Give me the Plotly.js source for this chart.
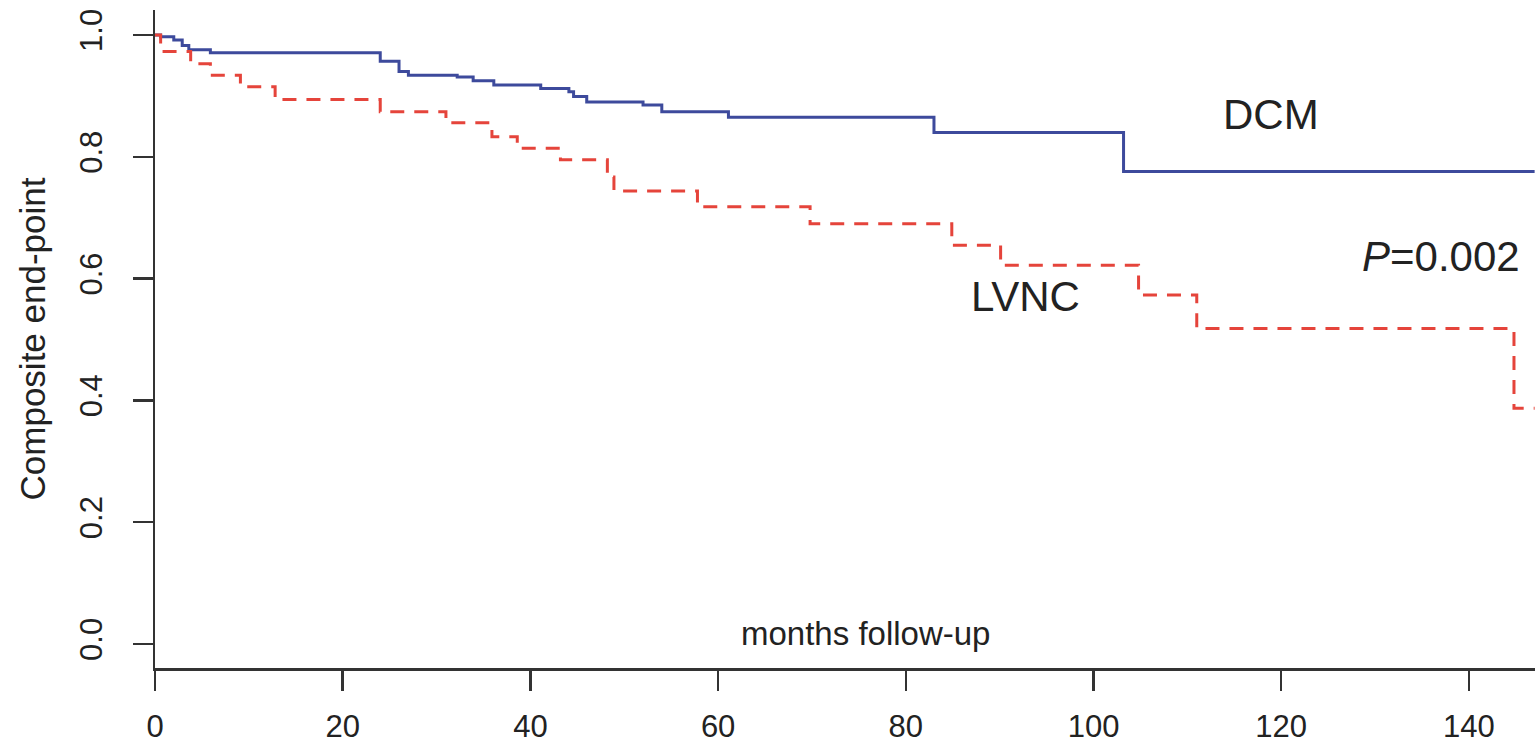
<!DOCTYPE html>
<html>
<head>
<meta charset="utf-8">
<script src="https://cdn.plot.ly/plotly-3.0.1.min.js"></script>
<style>html,body{margin:0;padding:0;background:#fff;}#chart{width:1535px;height:750px;}</style>
</head>
<body>
<div id="chart"></div>
<script>
// DCM Kaplan-Meier estimates (months, survival free of composite end-point)
const dcmMonths = [0, 0.6, 2.0, 2.9, 3.6, 5.9, 24.0, 26.0, 27.0, 32.2, 33.9, 36.1, 41.1, 44.1, 44.6, 46.0, 52.0, 54.0, 61.1, 83.0, 103.2, 147];
const dcmSurv   = [1.0, 0.997, 0.992, 0.983, 0.976, 0.971, 0.957, 0.940, 0.934, 0.931, 0.925, 0.918, 0.912, 0.907, 0.899, 0.890, 0.885, 0.874, 0.865, 0.840, 0.776, 0.776];
// LVNC Kaplan-Meier estimates
const lvncMonths = [0, 0.6, 3.8, 5.9, 9.1, 12.8, 24.0, 31.0, 35.9, 38.6, 43.2, 48.2, 48.9, 57.8, 69.8, 84.9, 90.1, 104.8, 111.0, 144.8, 147];
const lvncSurv   = [1.0, 0.973, 0.953, 0.934, 0.915, 0.894, 0.874, 0.856, 0.833, 0.814, 0.795, 0.767, 0.744, 0.718, 0.690, 0.655, 0.622, 0.573, 0.518, 0.387, 0.387];

const xTickVals = [0, 20, 40, 60, 80, 100, 120, 140];
const xTickText = ["0", "20", "40", "60", "80", "100", "120", "140"];
const yTickVals = [0.0, 0.2, 0.4, 0.6, 0.8, 1.0];
const yTickText = ["0.0", "0.2", "0.4", "0.6", "0.8", "1.0"];

const groupLabels = ["DCM", "LVNC"];
const pValueText = "<i>P</i>=0.002";
const xTitle = "months follow-up";
const yTitle = "Composite end-point";

const FONT = "Liberation Sans, Arial, Helvetica, sans-serif";
const TXT = "#222222";

const traces = [
  {x: dcmMonths, y: dcmSurv, type: "scatter", mode: "lines", name: groupLabels[0],
   line: {shape: "hv", color: "#3d4a9c", width: 3}},
  {x: lvncMonths, y: lvncSurv, type: "scatter", mode: "lines", name: groupLabels[1],
   line: {shape: "hv", color: "#e5443b", width: 3, dash: "14px,10px"}}
];

const layout = {
  width: 1535, height: 750,
  margin: {l: 155, r: 0, t: 10, b: 82},
  paper_bgcolor: "#ffffff", plot_bgcolor: "#ffffff",
  showlegend: false,
  font: {family: FONT, color: TXT},
  xaxis: {
    range: [0, 147.04], showgrid: false, zeroline: false,
    showline: true, linecolor: "#333333", linewidth: 2.5,
    ticks: "outside", ticklen: 20, tickwidth: 2.5, tickcolor: "#333333",
    tickmode: "array", tickvals: xTickVals, ticktext: xTickText,
    tickfont: {size: 31, family: FONT, color: TXT}, ticklabelstandoff: 9
  },
  yaxis: {
    range: [-0.0394, 1.0411], showgrid: false, zeroline: false,
    showline: true, linecolor: "#333333", linewidth: 2.5,
    ticks: "outside", ticklen: 20, tickwidth: 2.5, tickcolor: "#333333",
    tickmode: "array", tickvals: yTickVals, ticktext: yTickText, tickangle: -90,
    tickfont: {size: 31, family: FONT, color: TXT}, ticklabelstandoff: 18,
    title: {text: yTitle, font: {size: 35, family: FONT, color: TXT}, standoff: 18}
  },
  annotations: [
    {x: 75.7, y: 0.018, xref: "x", yref: "y", text: xTitle, showarrow: false,
     font: {size: 33, family: FONT, color: TXT}},
    {x: 118.9, y: 0.869, xref: "x", yref: "y", text: groupLabels[0], showarrow: false,
     font: {size: 42, family: FONT, color: TXT}},
    {x: 92.8, y: 0.570, xref: "x", yref: "y", text: groupLabels[1], showarrow: false,
     font: {size: 42, family: FONT, color: TXT}},
    {x: 137.0, y: 0.637, xref: "x", yref: "y", text: pValueText, showarrow: false,
     font: {size: 42, family: FONT, color: TXT}}
  ]
};

Plotly.newPlot("chart", traces, layout, {staticPlot: true, displayModeBar: false});
</script>
</body>
</html>
